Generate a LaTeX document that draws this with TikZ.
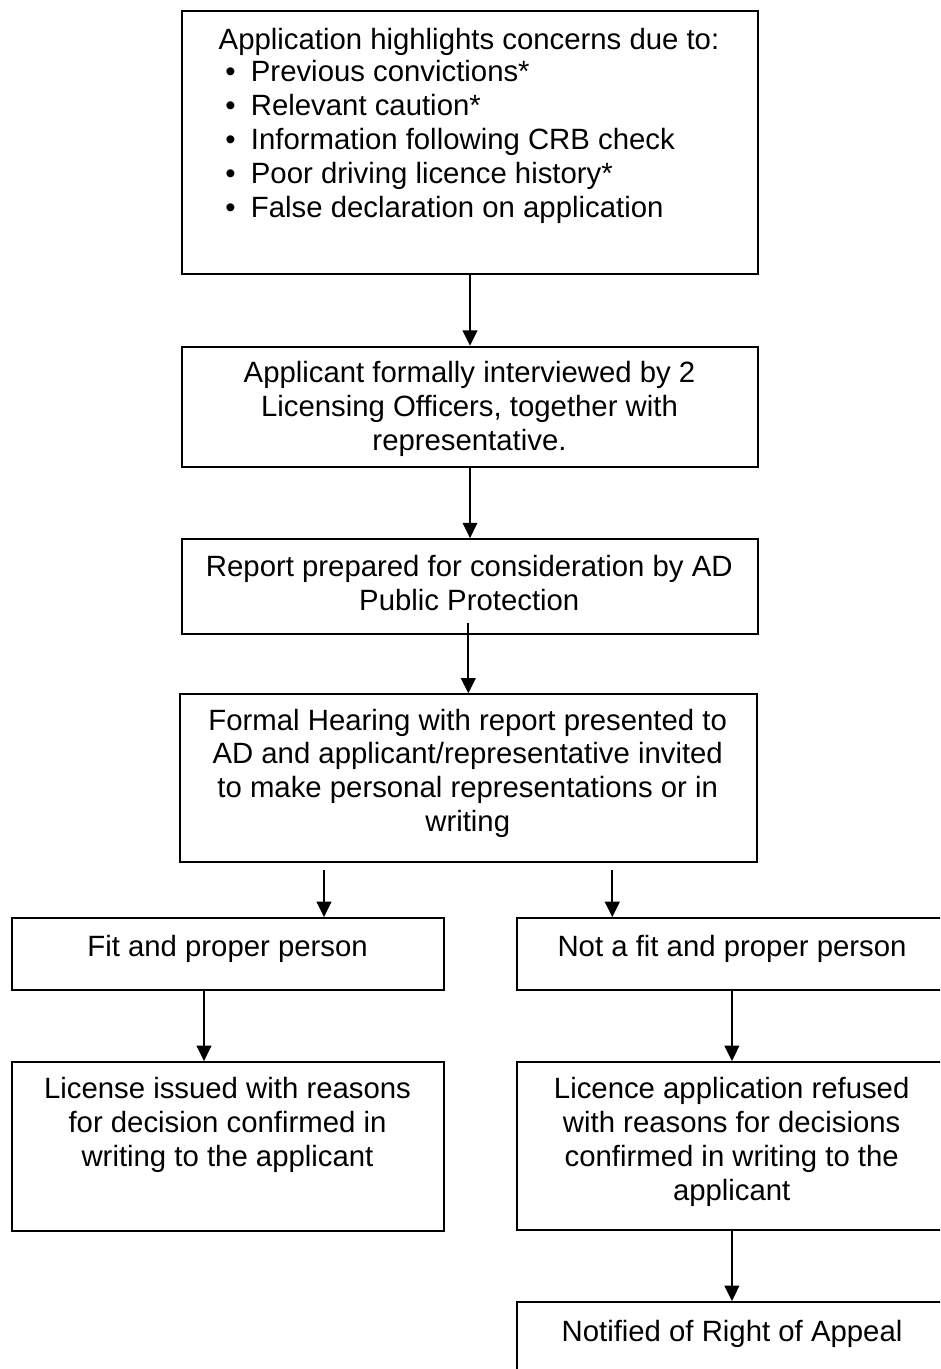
\documentclass[tikz,border=0pt]{standalone}
\usepackage{fontspec}
\setmainfont{Liberation Sans}
\usetikzlibrary{arrows.meta}
\begin{document}
\begin{tikzpicture}[x=0.75pt,y=-0.75pt,
  box/.style={draw, line width=1.4pt, inner sep=0pt, rectangle},
  txt/.style={font=\fontsize{22}{25.4}\selectfont, align=center, inner sep=0pt, anchor=base},
  arr/.style={line width=1.3pt, -{Triangle[width=11pt,length=11.5pt]}}]
\useasboundingbox (0,0) rectangle (940,1369);
\clip (0,0) rectangle (940,1369);
\fill[white] (0,0) rectangle (940,1369);

% boxes
\node[box, minimum width=432.45pt, minimum height=197.7pt] (b1) at (470,142.5) {};
\node[box, minimum width=432.45pt, minimum height=90pt] (b2) at (470,406.7) {};
\node[box, minimum width=432.45pt, minimum height=71.5pt] (b3) at (470,586.7) {};
\node[box, minimum width=432.5pt, minimum height=126pt] (b4) at (468.3,778.3) {};
\node[box, minimum width=324.2pt, minimum height=54pt] (b5) at (227.9,954) {};
\node[box, minimum width=322.7pt, minimum height=54pt] (b6) at (731.9,954) {};
\node[box, minimum width=324.2pt, minimum height=126.75pt] (b7) at (227.9,1146.5) {};
\node[box, minimum width=322.7pt, minimum height=126pt] (b8) at (731.9,1146) {};
\node[box, minimum width=322.7pt, minimum height=54pt] (b9) at (731.9,1338) {};

% texts (multi-line nodes are placed by the baseline of their last line)
\node[txt] (t1) at (469,49.3) {Application highlights concerns due to:};
\node[txt, anchor=base west, align=left] (t1b) at (225.2,217.3) {%
\makebox[19.1pt][l]{•}Previous convictions*\\
\makebox[19.1pt][l]{•}Relevant caution*\\
\makebox[19.1pt][l]{•}Information following CRB check\\
\makebox[19.1pt][l]{•}Poor driving licence history*\\
\makebox[19.1pt][l]{•}False declaration on application};
\node[txt] (t2) at (469.5,450.7) {Applicant formally interviewed by 2\\Licensing Officers, together with\\representative.};
\node[txt] (t3) at (469.3,610) {Report prepared for consideration by AD\\Public Protection};
\node[txt] (t4) at (467.7,831.7) {Formal Hearing with report presented to\\AD and applicant/representative invited\\to make personal representations or in\\writing};
\node[txt] (t5) at (227.6,956.7) {Fit and proper person};
\node[txt] (t6) at (732,956.7) {Not a fit and proper person};
\node[txt] (t7) at (227.5,1166.7) {License issued with reasons\\for decision confirmed in\\writing to the applicant};
\node[txt] (t8) at (731.7,1200) {Licence application refused\\with reasons for decisions\\confirmed in writing to the\\applicant};
\node[txt] (t9) at (732,1341.7) {Notified of Right of Appeal};

% connectors
\coordinate (s3) at (468.3,622.7);
\coordinate (s4l) at (324,870);
\coordinate (s4r) at (612.3,870);
\coordinate (c5) at (204,0);
\draw[arr] (b1.south) -- (b2.north);
\draw[arr] (b2.south) -- (b3.north);
\draw[arr] (s3) -- (s3 |- b4.north);
\draw[arr] (s4l) -- (s4l |- b5.north);
\draw[arr] (s4r) -- (s4r |- b6.north);
\draw[arr] (c5 |- b5.south) -- (c5 |- b7.north);
\draw[arr] (b6.south) -- (b8.north);
\draw[arr] (b8.south) -- (b9.north);
\end{tikzpicture}
\end{document}
